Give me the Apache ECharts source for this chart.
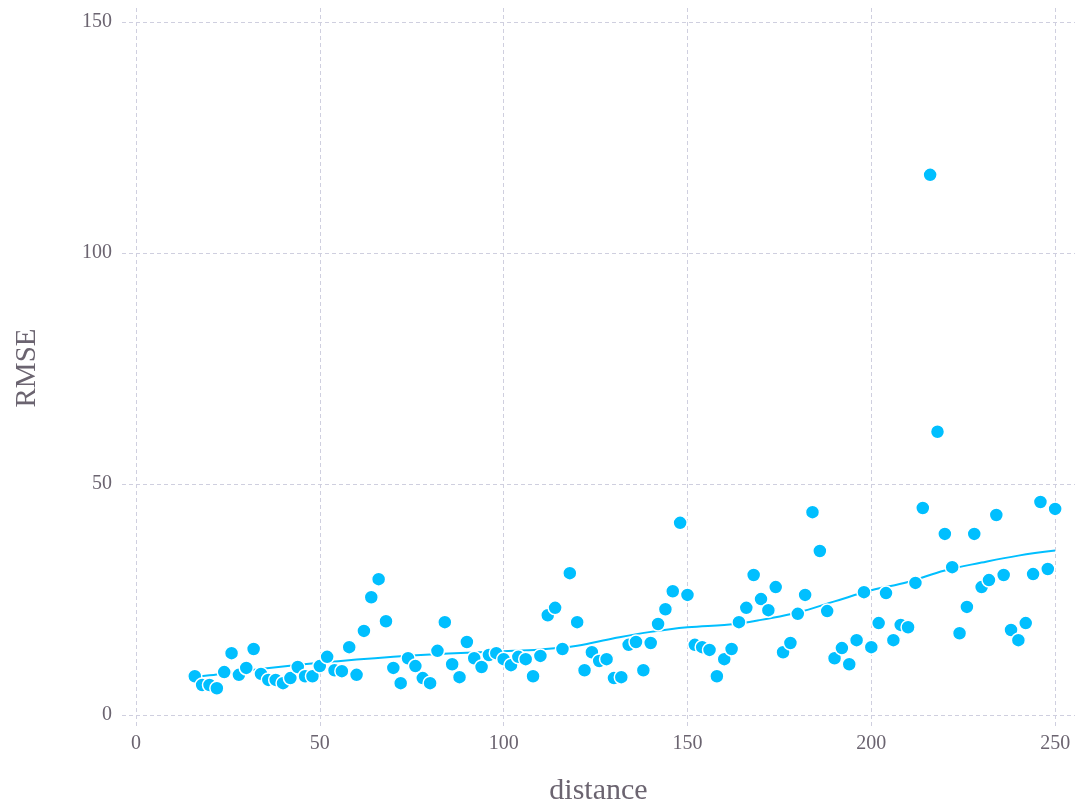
<!DOCTYPE html>
<html>
<head>
<meta charset="utf-8">
<script src="https://cdn.jsdelivr.net/npm/echarts@6/dist/echarts.min.js"></script>
<style>html,body{margin:0;padding:0;background:#fff}#c{width:1079px;height:807px}</style>
</head>
<body>
<div id="c"></div>
<script>
const distance = [16,18,20,22,24,26,28,30,32,34,36,38,40,42,44,46,48,50,52,54,56,58,60,62,64,66,68,70,72,74,76,78,80,82,84,86,88,90,92,94,96,98,100,102,104,106,108,110,112,114,116,118,120,122,124,126,128,130,132,134,136,138,140,142,144,146,148,150,152,154,156,158,160,162,164,166,168,170,172,174,176,178,180,182,184,186,188,190,192,194,196,198,200,202,204,206,208,210,212,214,216,218,220,222,224,226,228,230,232,234,236,238,240,242,244,246,248,250];
const rmse = [8.4,6.5,6.5,5.8,9.3,13.4,8.7,10.2,14.3,8.9,7.6,7.6,6.9,8.0,10.4,8.4,8.4,10.6,12.6,9.7,9.5,14.7,8.7,18.2,25.5,29.4,20.3,10.2,6.9,12.3,10.6,8.0,6.9,13.9,20.1,11.0,8.2,15.8,12.3,10.4,13.0,13.4,12.1,10.8,12.6,12.1,8.4,12.8,21.6,23.2,14.3,30.7,20.1,9.7,13.6,11.7,12.1,8.0,8.2,15.2,15.8,9.7,15.6,19.7,22.9,26.8,41.6,26.0,15.2,14.7,14.1,8.4,12.1,14.3,20.1,23.2,30.3,25.1,22.7,27.7,13.6,15.6,21.9,26.0,43.9,35.5,22.5,12.3,14.5,11.0,16.2,26.6,14.7,19.9,26.4,16.2,19.5,19.0,28.6,44.8,116.9,61.3,39.2,32.0,17.7,23.4,39.2,27.7,29.2,43.3,30.3,18.4,16.2,19.9,30.5,46.1,31.6,44.6];
const trendX = [16,20,30,40,50,60,70,80,90,100,110,120,130,140,150,160,165,170,180,190,200,210,220,230,240,250];
const trendY = [8.3,8.6,9.6,10.5,11.3,12.0,12.6,13.1,13.5,13.8,14.2,15.0,16.6,18.0,19.0,19.5,19.9,20.6,22.2,24.6,27.0,28.8,31.3,33.0,34.5,35.6];
const xTicks = [0,50,100,150,200,250];
const yTicks = [0,50,100,150];

const font = '"Liberation Serif", "DejaVu Serif", serif';
const txt = '#6b6470';
const gridCol = '#cfcfdf';
const blue = '#00BFFF';

const chart = echarts.init(document.getElementById('c'), null, {renderer:'canvas'});
chart.setOption({
  animation:false,
  backgroundColor:'#fff',
  grid:{left:122, right:4, top:8, bottom:79, containLabel:false, outerBoundsMode:'none'},
  xAxis:{
    type:'value', min:-3.8, max:255.4,
    name:'distance', nameLocation:'middle', nameGap:48,
    nameTextStyle:{fontFamily:font, fontSize:30, color:txt},
    axisLine:{show:false},
    axisTick:{show:false, customValues:xTicks},
    axisLabel:{customValues:xTicks, fontFamily:font, fontSize:20, color:txt, margin:6},
    splitLine:{show:true, lineStyle:{color:gridCol, type:[4,3], width:1}}
  },
  yAxis:{
    type:'value', min:-2.8, max:153.0,
    name:'RMSE', nameLocation:'middle', nameGap:80, nameRotate:90,
    nameTextStyle:{fontFamily:font, fontSize:29, color:txt},
    axisLine:{show:false},
    axisTick:{show:false, customValues:yTicks},
    axisLabel:{customValues:yTicks, fontFamily:font, fontSize:20, color:txt, margin:10},
    splitLine:{show:true, lineStyle:{color:gridCol, type:[4,3], width:1}}
  },
  series:[
    {
      type:'line', data:trendX.map((x,i)=>[x,trendY[i]]),
      smooth:0.4, showSymbol:false, symbol:'none',
      lineStyle:{color:blue, width:2}, z:2, silent:true
    },
    {
      type:'scatter', data:distance.map((x,i)=>[x,rmse[i]]),
      symbol:'circle', symbolSize:14,
      itemStyle:{color:blue, borderColor:'#fff', borderWidth:1.5, opacity:1}, z:3
    }
  ]
});
</script>
</body>
</html>
